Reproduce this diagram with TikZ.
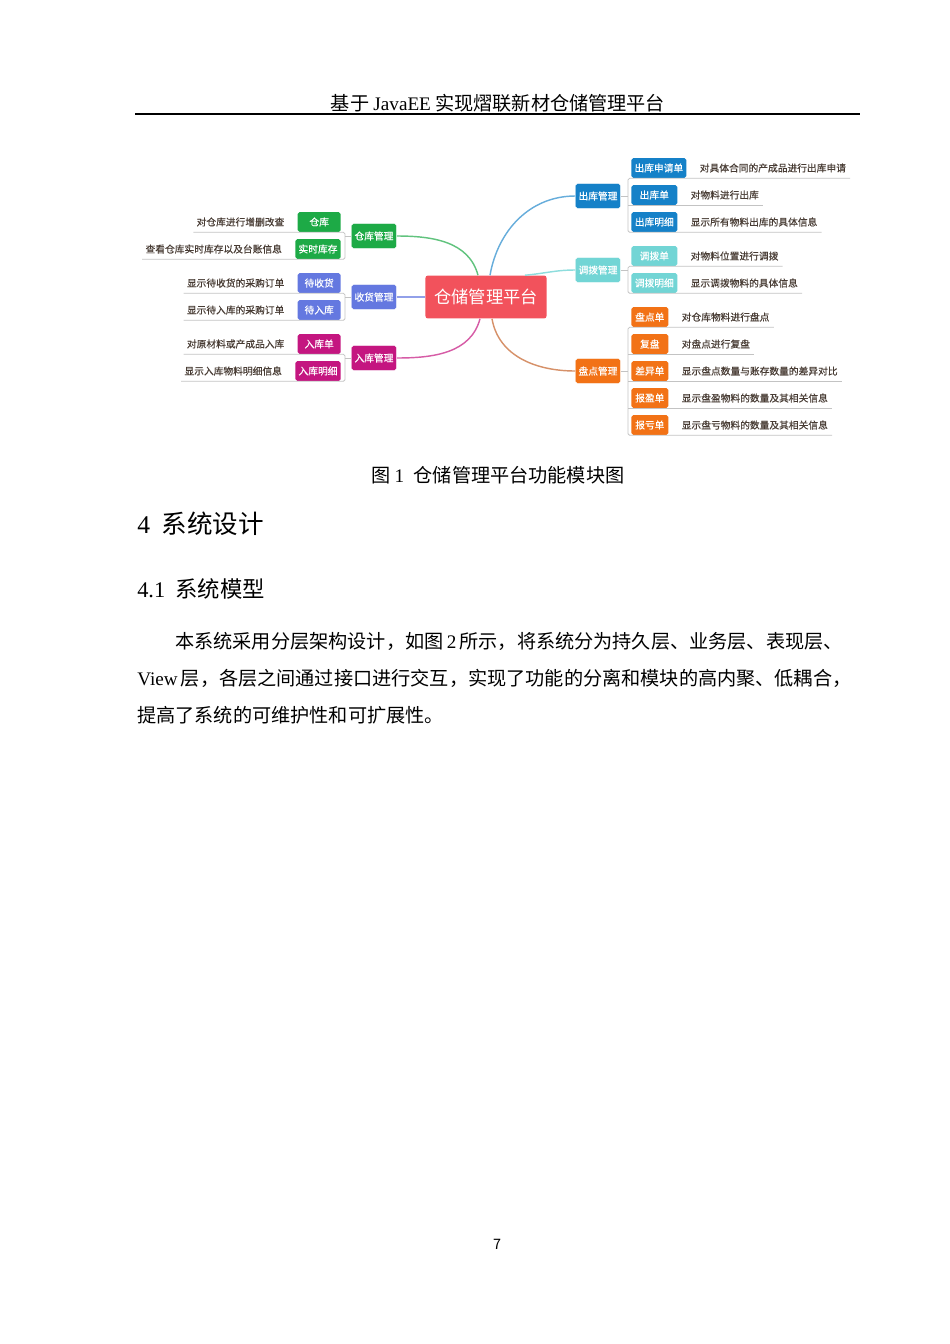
\documentclass[tikz,border=0pt]{standalone}
\usepackage{fontspec}
\setmainfont{Noto Sans CJK SC}
\newfontfamily\tnr{Liberation Serif}
\newfontfamily\mapfam[FakeBold=0.5]{Noto Sans CJK SC}
\usetikzlibrary{positioning,calc}

\definecolor{ckgreen}{RGB}{29,170,70}
\definecolor{shblue}{RGB}{100,120,224}
\definecolor{rkred}{RGB}{196,22,128}
\definecolor{zxred}{RGB}{242,82,92}
\definecolor{ckblue}{RGB}{21,129,200}
\definecolor{dbcyan}{RGB}{114,213,213}
\definecolor{pdorange}{RGB}{242,114,22}
\definecolor{notegray}{RGB}{72,60,52}
\definecolor{linegray}{RGB}{195,195,195}
\definecolor{pdbrown}{RGB}{214,145,105}

\newcommand{\mapfont}{\mapfam\fontsize{6.1}{7}\selectfont}

\tikzset{
  topic/.style={fill=#1,draw=white,line width=0.3pt,rounded corners=1.2pt,text=white,
    font=\mapfont,inner sep=0pt,minimum width=28.2pt,minimum height=15.7pt},
  sub/.style={fill=#1,rounded corners=1.2pt,text=white,font=\mapfont,
    inner xsep=2pt,inner ysep=0pt,minimum height=12.5pt},
  note/.style={text=notegray,font=\mapfont,inner sep=0pt},
  uline/.style={draw=linegray,line width=0.5pt},
  branch/.style={draw=#1,line width=0.9pt},
  pagetext/.style={inner sep=0pt,anchor=west,font=\fontsize{12}{14}\selectfont},
}

\begin{document}
\begin{tikzpicture}[x=0.6263pt,y=0.6263pt]
    \useasboundingbox (0,0) rectangle (950,-1344);

    % header
    \node[inner sep=0pt,font=\fontsize{12}{14}\selectfont](hd) at (498,-103){基于 {\tnr JavaEE} 实现熠联新材仓储管理平台};
    \coordinate (hrL) at (135,-114);
    \coordinate (hrR) at (860,-114);
    \draw[line width=0.8pt] (hrL) -- (hrR);

    % central topic
    \node[fill=zxred,rounded corners=1.5pt,text=white,font=\fontsize{10.8}{12}\selectfont,
      minimum width=75.8pt,minimum height=26.9pt,inner sep=0pt](cp) at (486,-297){仓储管理平台};

    % left main topics
    \node[topic=ckgreen](wh) at (374,-236){仓库管理};
    \node[topic=shblue](rc) at (374,-297){收货管理};
    \node[topic=rkred](si) at (374,-358){入库管理};

    % right main topics
    \node[topic=ckblue](so) at (598,-196){出库管理};
    \node[topic=dbcyan](tr) at (598,-270){调拨管理};
    \node[topic=pdorange](ct) at (598,-371){盘点管理};

    % branches
    \draw[branch=ckgreen!70] (wh.east) to[out=0,in=105] ($(cp.north)+(-8,0)$);
    \draw[branch=shblue!70] (rc.east) -- (cp.west);
    \draw[branch=rkred!70] (si.east) to[out=0,in=-105] ($(cp.south)+(-6,0)$);
    \draw[branch=ckblue!65] ($(cp.north)+(4,0)$) to[out=80,in=180] (so.west);
    \draw[branch=dbcyan!80] ($(cp.north)+(39,0)$) to[out=5,in=180] (tr.west);
    \draw[branch=pdbrown] ($(cp.south)+(6,0)$) to[out=-80,in=180] (ct.west);

    % left subtopics
    \node[sub=ckgreen,minimum width=26.9pt,anchor=east](whA) at (341,-222){仓库};
    \node[sub=ckgreen,minimum width=26.9pt,anchor=east](whB) at (341,-249){实时库存};
    \node[sub=shblue,minimum width=26.9pt,anchor=east](rcA) at (341,-283){待收货};
    \node[sub=shblue,minimum width=26.9pt,anchor=east](rcB) at (341,-310){待入库};
    \node[sub=rkred,minimum width=26.9pt,anchor=east](siA) at (341,-344){入库单};
    \node[sub=rkred,minimum width=26.9pt,anchor=east](siB) at (341,-371){入库明细};

    \node[note,left=8pt of whA](whAd){对仓库进行增删改查};
    \node[note,left=8pt of whB](whBd){查看仓库实时库存以及台账信息};
    \node[note,left=8pt of rcA](rcAd){显示待收货的采购订单};
    \node[note,left=8pt of rcB](rcBd){显示待入库的采购订单};
    \node[note,left=8pt of siA](siAd){对原材料或产成品入库};
    \node[note,left=8pt of siB](siBd){显示入库物料明细信息};

    % right subtopics
    \node[sub=ckblue,minimum width=28.8pt,anchor=west](soA) at (631,-168){出库申请单};
    \node[sub=ckblue,minimum width=28.8pt,anchor=west](soB) at (631,-195){出库单};
    \node[sub=ckblue,minimum width=28.8pt,anchor=west](soC) at (631,-222){出库明细};
    \node[sub=dbcyan,minimum width=28.8pt,anchor=west](trA) at (631,-256){调拨单};
    \node[sub=dbcyan,minimum width=28.8pt,anchor=west](trB) at (631,-283){调拨明细};
    \node[sub=pdorange,minimum width=23.2pt,anchor=west](ctA) at (631,-317){盘点单};
    \node[sub=pdorange,minimum width=23.2pt,anchor=west](ctB) at (631,-344){复盘};
    \node[sub=pdorange,minimum width=23.2pt,anchor=west](ctC) at (631,-371){差异单};
    \node[sub=pdorange,minimum width=23.2pt,anchor=west](ctD) at (631,-398){报盈单};
    \node[sub=pdorange,minimum width=23.2pt,anchor=west](ctE) at (631,-425){报亏单};

    \node[note,right=8pt of soA](soAd){对具体合同的产成品进行出库申请};
    \node[note,right=8pt of soB](soBd){对物料进行出库};
    \node[note,right=8pt of soC](soCd){显示所有物料出库的具体信息};
    \node[note,right=8pt of trA](trAd){对物料位置进行调拨};
    \node[note,right=8pt of trB](trBd){显示调拨物料的具体信息};
    \node[note,right=8pt of ctA](ctAd){对仓库物料进行盘点};
    \node[note,right=8pt of ctB](ctBd){对盘点进行复盘};
    \node[note,right=8pt of ctC](ctCd){显示盘点数量与账存数量的差异对比};
    \node[note,right=8pt of ctD](ctDd){显示盘盈物料的数量及其相关信息};
    \node[note,right=8pt of ctE](ctEd){显示盘亏物料的数量及其相关信息};

    % brackets and underlines, left
    \coordinate (whk) at (345,-236);
    \coordinate (rck) at (345,-297);
    \coordinate (sik) at (345,-358);
    \draw[uline,rounded corners=1pt] ($(whAd.west|-whA.south)+(-3,0)$) -- (whk|-whA.south) -- (whk|-whB.south) -- ($(whBd.west|-whB.south)+(-3,0)$);
    \draw[uline,rounded corners=1pt] ($(rcAd.west|-rcA.south)+(-3,0)$) -- (rck|-rcA.south) -- (rck|-rcB.south) -- ($(rcBd.west|-rcB.south)+(-3,0)$);
    \draw[uline,rounded corners=1pt] ($(siAd.west|-siA.south)+(-3,0)$) -- (sik|-siA.south) -- (sik|-siB.south) -- ($(siBd.west|-siB.south)+(-3,0)$);
    \draw[uline] (whk) -- (wh.west);
    \draw[uline] (rck) -- (rc.west);
    \draw[uline] (sik) -- (si.west);

    % brackets and underlines, right
    \coordinate (sok) at (628,-196);
    \coordinate (trk) at (628,-270);
    \coordinate (ctk) at (628,-371);
    \draw[uline,rounded corners=1pt] ($(soAd.east|-soA.south)+(4,0)$) -- (sok|-soA.south) -- (sok|-soC.south) -- ($(soCd.east|-soC.south)+(4,0)$);
    \draw[uline] (sok|-soB.south) -- ($(soBd.east|-soB.south)+(4,0)$);
    \draw[uline,rounded corners=1pt] ($(trAd.east|-trA.south)+(4,0)$) -- (trk|-trA.south) -- (trk|-trB.south) -- ($(trBd.east|-trB.south)+(4,0)$);
    \draw[uline,rounded corners=1pt] ($(ctAd.east|-ctA.south)+(4,0)$) -- (ctk|-ctA.south) -- (ctk|-ctE.south) -- ($(ctEd.east|-ctE.south)+(4,0)$);
    \foreach \r in {ctB,ctC,ctD}
      \draw[uline] (ctk|-\r.south) -- ($(\r d.east|-\r.south)+(4,0)$);
    \draw[uline] (so.east) -- (sok);
    \draw[uline] (tr.east) -- (trk);
    \draw[uline] (ct.east) -- (ctk);

    % caption, headings and body
    \node[inner sep=0pt,font=\fontsize{12}{14}\selectfont](cap) at (498,-475){图\hspace{0.2em}{\tnr 1}\hspace{0.5em}仓储管理平台功能模块图};
    \node[inner sep=0pt,anchor=west,font=\fontsize{16}{18}\selectfont](sec) at (137,-524){{\tnr 4}\hspace{0.45em}系统设计};
    \node[inner sep=0pt,anchor=west,font=\fontsize{14}{16}\selectfont](subsec) at (137,-589){{\tnr 4.1}\hspace{0.45em}系统模型};
    \node[pagetext](parA) at (175,-641){本系统采用分层架构设计，如图\,{\tnr 2}\,所示，将系统分为持久层、业务层、表现层、};
    \node[pagetext](parB) at (137,-678){{\tnr View}\,层，各层之间通过接口进行交互，实现了功能的分离和模块的高内聚、低耦合，};
    \node[pagetext](parC) at (137,-715){提高了系统的可维护性和可扩展性。};

    % page number
    \node[inner sep=0pt,font=\fontsize{9}{10}\selectfont](pgno) at (497,-1244){7};
\end{tikzpicture}
\end{document}
